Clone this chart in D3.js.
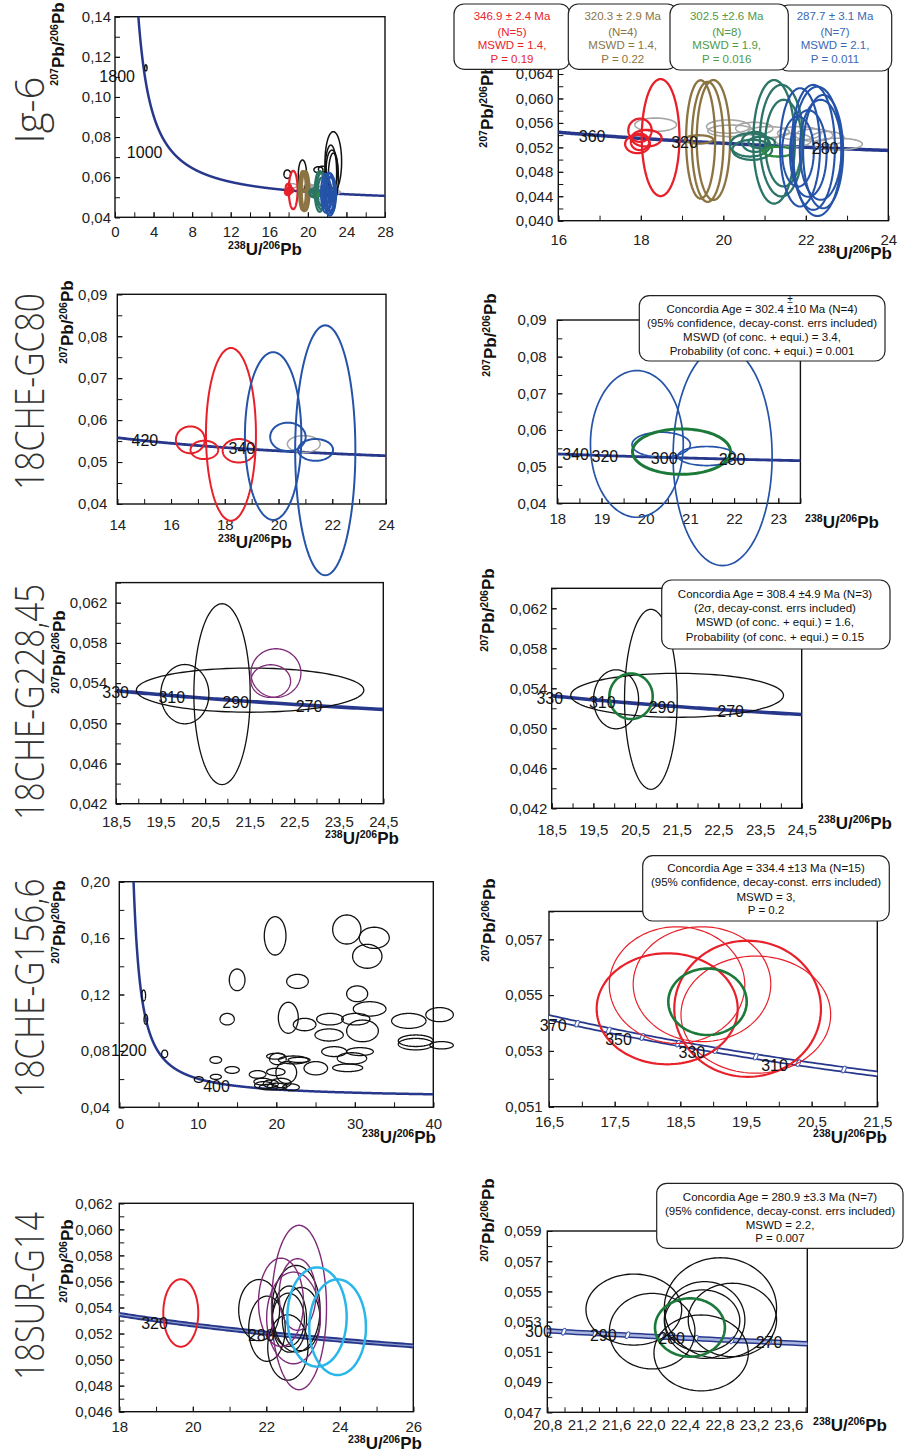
<!DOCTYPE html>
<html><head><meta charset="utf-8">
<script src="https://cdnjs.cloudflare.com/ajax/libs/d3/7.8.5/d3.min.js"></script>
<style>body{margin:0;background:#fff}svg{display:block}</style>
</head><body>
<svg id="c" width="904" height="1452"></svg>
<script>
// ---------------- DATA ----------------
// Tera-Wasserburg concordia model constants
const LAMBDA238 = 1.55125e-10, LAMBDA235 = 9.8485e-10, U238_U235 = 137.88;
const concordiaAges = d3.range(40, 4600, 1);

// Tick labels
const p1XTicks = [0,4,8,12,16,20,24,28], p1YTicks = [0.04,0.06,0.08,0.10,0.12,0.14];
const p2XTicks = [16,18,20,22,24], p2YTicks = [0.040,0.044,0.048,0.052,0.056,0.060,0.064];
const p3XTicks = [14,16,18,20,22,24], p3YTicks = [0.04,0.05,0.06,0.07,0.08,0.09];
const p4XTicks = [18,19,20,21,22,23], p4YTicks = [0.04,0.05,0.06,0.07,0.08,0.09];
const p5XTicks = [18.5,19.5,20.5,21.5,22.5,23.5,24.5], p5YTicks = [0.042,0.046,0.050,0.054,0.058,0.062];
const p6XTicks = [18.5,19.5,20.5,21.5,22.5,23.5,24.5], p6YTicks = [0.042,0.046,0.050,0.054,0.058,0.062];
const p7XTicks = [0,10,20,30,40], p7YTicks = [0.04,0.08,0.12,0.16,0.20];
const p8XTicks = [16.5,17.5,18.5,19.5,20.5,21.5], p8YTicks = [0.051,0.053,0.055,0.057];
const p9XTicks = [18,20,22,24,26], p9YTicks = [0.046,0.048,0.050,0.052,0.054,0.056,0.058,0.060,0.062];
const p10XTicks = [20.8,21.2,21.6,22.0,22.4,22.8,23.2,23.6], p10YTicks = [0.047,0.049,0.051,0.053,0.055,0.057,0.059];

// Concordia age labels (Ma)
const p1Ages = [1800,1000], p2Ages = [360,320,280], p3Ages = [420,340], p4Ages = [340,320,300,280];
const p5Ages = [330,310,290,270], p6Ages = [330,310,290,270], p7Ages = [1200,400];
const p8Ages = [370,350,330,310], p9Ages = [320,280], p10Ages = [300,290,280,270];
const p8Marks = [370,360,350,340,330,320,310,300];
const p10Marks = [300,295,290,285,280,275,270];

// Ellipses: [x, y, semi-axis x, semi-axis y] in data units
const igRed = [[18.48,0.0536,0.457,0.00957],[17.98,0.0548,0.283,0.0019],[18.14,0.0535,0.364,0.00136],[17.92,0.05255,0.30,0.0015],[17.98,0.0529,0.22,0.00136]];
const igBrown = [[19.45,0.0533,0.352,0.00968],[19.62,0.0529,0.384,0.00982],[19.76,0.0532,0.404,0.00982],[19.41,0.0533,0.343,0.00068]];
const igTeal = [[21.23,0.0529,0.505,0.0101],[21.41,0.0531,0.525,0.00914],[21.46,0.0527,0.444,0.00709],[20.65,0.0524,0.485,0.0019],[20.70,0.0516,0.48,0.00164],[20.77,0.0529,0.32,0.00164],[20.93,0.0528,0.32,0.00095]];
const igGreen = [[21.33,0.0513,0.364,0.0008]];
const igBlue = [[21.86,0.0520,0.485,0.00968],[22.18,0.0520,0.525,0.01023],[22.28,0.05135,0.586,0.01058],[22.36,0.0516,0.505,0.00818],[22.06,0.0510,0.444,0.00709],[22.42,0.0513,0.485,0.00927],[21.81,0.0513,0.384,0.00573]];
const igGrey = [[18.36,0.0557,0.505,0.00109],[20.12,0.0554,0.525,0.00109],[20.19,0.0547,0.566,0.00095],[20.75,0.0551,0.45,0.0010],[21.1,0.0545,0.5,0.0009],[21.84,0.0543,0.525,0.0011],[21.70,0.0532,0.44,0.0011],[22.53,0.0535,0.40,0.0011],[22.77,0.05255,0.6,0.00095],[22.2,0.0540,0.45,0.001]];
const igBlack = [[22.64,0.0677,0.86,0.0150],[22.38,0.0623,0.605,0.0137],[22.64,0.0599,0.52,0.0121],[22.5,0.0640,0.6,0.0095],[19.44,0.0611,0.43,0.0075],[17.87,0.0615,0.35,0.0021],[21.1,0.0637,0.47,0.0015],[21.5,0.0640,0.40,0.0015],[3.2,0.1145,0.12,0.0015]];

const gc80Red = [[16.72,0.0553,0.54,0.0032],[17.24,0.0529,0.515,0.0022],[18.23,0.0566,0.93,0.0206],[18.52,0.0527,0.60,0.0028]];
const gc80Blue = [[19.80,0.0562,1.05,0.0200],[21.74,0.0528,1.12,0.0298],[20.35,0.0560,0.66,0.0034],[21.38,0.0529,0.65,0.0026]];
const gc80Grey = [[20.94,0.0543,0.61,0.0020]];
const gc80Conc = [[20.81,0.0541,1.109,0.0062]];

const g228Black = [[20.045,0.0529,0.54,0.00295],[20.88,0.0529,0.632,0.0090],[21.51,0.0533,2.553,0.0022]];
const g228Purple = [[22.09,0.0550,0.561,0.00242],[21.974,0.0542,0.445,0.00163]];
const g228Conc = [[20.404,0.0532,0.52,0.00228]];

const g156Black = [[19.85,0.1616,1.38,0.0136],[28.98,0.1661,1.80,0.0103],[32.48,0.1602,1.91,0.0075],[31.59,0.1471,1.87,0.0085],[15.01,0.1304,1.00,0.0077],[22.70,0.1293,1.38,0.0050],[30.30,0.1205,1.34,0.0056],[31.89,0.1098,2.08,0.0051],[21.53,0.1035,1.27,0.0110],[13.74,0.1025,0.91,0.0041],[23.61,0.0987,1.44,0.0044],[26.84,0.1025,1.70,0.0041],[30.13,0.1025,1.80,0.0041],[30.98,0.0942,2.02,0.0077],[26.73,0.0913,1.80,0.0043],[36.88,0.1013,2.19,0.0053],[40.8,0.1057,1.75,0.0050],[37.77,0.0872,2.23,0.0041],[37.77,0.0848,2.23,0.0041],[41.06,0.0840,1.49,0.0026],[27.37,0.0795,1.59,0.0035],[30.66,0.0795,1.70,0.0028],[29.64,0.0747,1.87,0.0040],[29.09,0.0680,1.91,0.0027],[25.03,0.0677,1.50,0.0047],[21.27,0.0647,1.32,0.0077],[22.17,0.0736,1.90,0.0028],[22.9,0.0736,1.40,0.0018],[19.94,0.0762,1.17,0.0021],[20.20,0.0743,1.06,0.0041],[12.29,0.0736,0.74,0.0024],[14.37,0.0665,0.91,0.0024],[12.30,0.0616,0.70,0.0018],[10.13,0.0597,0.57,0.0020],[17.62,0.0633,1.06,0.0027],[19.94,0.0651,1.17,0.0026],[18.28,0.0582,1.13,0.0024],[18.40,0.0556,1.17,0.0026],[19.30,0.0567,0.95,0.0027],[20.10,0.0547,1.27,0.0024],[20.60,0.0573,1.27,0.0033],[21.87,0.0542,1.06,0.0024],[19.00,0.0543,1.17,0.0020],[3.10,0.1193,0.25,0.0039],[3.38,0.1024,0.23,0.0035],[5.78,0.0779,0.38,0.0027]];
const g156RedThick = [[18.30,0.05451,1.074,0.00199],[19.525,0.05451,1.117,0.00244]];
const g156RedThin = [[18.45,0.05536,1.032,0.00209],[18.83,0.05539,1.048,0.00206],[19.65,0.0543,1.14,0.0021]];
const g156Conc = [[18.914,0.05476,0.597,0.00119]];

const g14Red = [[19.673,0.05358,0.476,0.00259]];
const g14Black = [[21.805,0.0538,0.556,0.00235],[22.018,0.05237,0.497,0.0025],[22.587,0.05093,0.548,0.00251],[22.811,0.0539,0.652,0.00333],[22.627,0.05311,0.468,0.00254],[22.60,0.05306,0.436,0.00204],[22.95,0.05311,0.513,0.00243]];
const g14Purple = [[22.89,0.0540,0.748,0.00631],[22.40,0.0544,0.612,0.00339],[22.85,0.0550,0.5,0.00275],[22.74,0.0532,0.73,0.00352]];
const g14Cyan = [[23.38,0.05327,0.807,0.00381],[23.94,0.05249,0.771,0.00367]];
const g14Conc = [[22.457,0.05261,0.406,0.00193]];

// Info box texts
const igBoxTexts = [
  ["346.9 ± 2.4 Ma","(N=5)","MSWD = 1.4,","P = 0.19"],
  ["320.3 ± 2.9 Ma","(N=4)","MSWD = 1.4,","P = 0.22"],
  ["302.5 ±2.6 Ma","(N=8)","MSWD = 1.9,","P = 0.016"],
  ["287.7 ± 3.1 Ma","(N=7)","MSWD = 2.1,","P = 0.011"]];
const gc80BoxText = ["Concordia Age = 302.4 ±10 Ma (N=4)","(95% confidence, decay-const. errs included)","MSWD (of conc. + equi.) = 3.4,","Probability (of conc. + equi.) = 0.001"];
const g228BoxText = ["Concordia Age = 308.4 ±4.9 Ma (N=3)","(2σ, decay-const. errs included)","MSWD (of conc. + equi.) = 1.6,","Probability (of conc. + equi.) = 0.15"];
const g156BoxText = ["Concordia Age = 334.4 ±13 Ma (N=15)","(95% confidence, decay-const. errs included)","MSWD = 3,","P = 0.2"];
const g14BoxText = ["Concordia Age = 280.9   ±3.3 Ma (N=7)","(95% confidence, decay-const. errs included)","MSWD = 2.2,","P = 0.007"];
const sampleNames = ["Ig-6","18CHE-GC80","18CHE-G228,45","18CHE-G156,6","18SUR-G14"];

// ---------------- STYLE ----------------
const FONT = '"Liberation Sans", Arial, Helvetica, sans-serif';
const C = {red:'#e8202a', brown:'#8b7442', teal:'#2b7466', green2:'#2f8a3c', blue:'#2553a8', grey:'#a5a5a5',
  black:'#111', purple:'#7e2c78', cyan:'#2ab6e8', concEll:'#1b7a3a', conc:'#27388c'};

function tw(age){ const t = age*1e6; const e8 = Math.exp(LAMBDA238*t)-1, e5 = Math.exp(LAMBDA235*t)-1; return [1/e8, e5/e8/U238_U235]; }

const panels = [
 {id:1, r:{l:115,t:16.7,r:385,b:217.3}, xd:[0,28], yd:[0.04,0.14], xt:p1XTicks, yt:p1YTicks, xm:2, ym:0.01, xdec:0, ydec:2, xOff:14, yGap:4,
  conc:{type:'single',w:2.5}, ages:p1Ages, ageDx:[-10,-10], ageDy:0,
  groups:[[igGrey,C.grey,1.5],[igBlack,C.black,1.5],[igRed,C.red,2.2],[igBrown,C.brown,2.4],[igTeal,C.teal,2.4],[igGreen,C.green2,2],[igBlue,C.blue,2.2]],
  xTitle:[265,249], yTitle:[58,44]},
 {id:2, r:{l:558.3,t:61.8,r:888.3,b:220.7}, xd:[16,24], yd:[0.04,0.066], xt:p2XTicks, yt:p2YTicks, xm:1, ym:0.002, xdec:0, ydec:3, xOff:18.6, yGap:5,
  conc:{type:'single',w:3.5}, ages:p2Ages, ageDx:[-11,-11,11], ageDy:0,
  groups:[[igGrey,C.grey,1.6],[igRed,C.red,2.3],[igBrown,C.brown,2.3],[igTeal,C.teal,2.3],[igGreen,C.green2,2.3],[igBlue,C.blue,2.1]],
  xTitle:[855,253], yTitle:[487,106]},
 {id:3, r:{l:117.3,t:294.3,r:386,b:504}, xd:[14,24], yd:[0.04,0.09], xt:p3XTicks, yt:p3YTicks, xm:1, ym:0.005, xdec:0, ydec:2, xOff:21, yGap:10,
  conc:{type:'single',w:2.8}, ages:p3Ages, ageDx:[18,18], ageDy:0,
  groups:[[gc80Grey,C.grey,1.5],[gc80Red,C.red,2],[gc80Blue,C.blue,2]],
  xTitle:[255,542], yTitle:[67,322]},
 {id:4, r:{l:557.3,t:320,r:800.4,b:503.3}, xd:[18,23.5], yd:[0.04,0.09], xt:p4XTicks, yt:p4YTicks, xm:0.5, ym:0.005, xdec:0, ydec:2, xOff:15, yGap:10.6,
  conc:{type:'single',w:2.8}, ages:p4Ages, ageDx:[11,-12,-12,-12], ageDy:0,
  groups:[[gc80Blue,C.blue,1.7],[gc80Conc,C.concEll,3]],
  xTitle:[842,522], yTitle:[490,335]},
 {id:5, r:{l:116,t:582.6,r:383.3,b:803.7}, xd:[18.5,24.5], yd:[0.042,0.064], xt:p5XTicks, yt:p5YTicks, xm:0.5, ym:0.002, xdec:1, ydec:3, xOff:18, yGap:8.7,
  conc:{type:'single',w:3.6}, ages:p5Ages, ageDx:[-11,-11,-11,-11], ageDy:0,
  groups:[[g228Black,C.black,1.3],[g228Purple,C.purple,1.3]],
  xTitle:[362,838], yTitle:[59,652]},
 {id:6, r:{l:551.7,t:588.3,r:801.7,b:808.3}, xd:[18.5,24.5], yd:[0.042,0.064], xt:p6XTicks, yt:p6YTicks, xm:0.5, ym:0.002, xdec:1, ydec:3, xOff:21.7, yGap:4.4,
  conc:{type:'single',w:3.6}, ages:p6Ages, ageDx:[-11,-11,-11,-11], ageDy:0,
  groups:[[g228Black,C.black,1.3],[g228Conc,C.concEll,2.6]],
  xTitle:[855,823], yTitle:[488,610]},
 {id:7, r:{l:119.3,t:881.7,r:433.3,b:1107.3}, xd:[0,40], yd:[0.04,0.20], xt:p7XTicks, yt:p7YTicks, xm:5, ym:0.02, xdec:0, ydec:2, xOff:16, yGap:9.3,
  conc:{type:'single',w:2.5}, ages:p7Ages, ageDx:[-11,-12], ageDy:0,
  groups:[[g156Black,C.black,1.3]],
  xTitle:[399,1137], yTitle:[59,922]},
 {id:8, r:{l:549,t:911.4,r:877.3,b:1106.7}, xd:[16.5,21.5], yd:[0.051,0.058], xt:p8XTicks, yt:p8YTicks, xm:0.5, ym:0.001, xdec:1, ydec:3, xOff:15, yGap:6.3,
  conc:{type:'double',w:6.5,inner:3,innerColor:'#fff'}, marks:p8Marks, ages:p8Ages, ageDx:[-10.5,-10.5,-10.5,-10.5], ageDy:2,
  groups:[[g156RedThin,C.red,1.2],[g156RedThick,C.red,2.2],[g156Conc,C.concEll,2.6]],
  xTitle:[850,1137], yTitle:[489,920]},
 {id:9, r:{l:119.3,t:1203.3,r:413.3,b:1411.7}, xd:[18,26], yd:[0.046,0.062], xt:p9XTicks, yt:p9YTicks, xm:1, ym:0.001, xdec:0, ydec:3, xOff:15.5, yGap:6.6,
  conc:{type:'double',w:5,inner:1.2,innerColor:'#8d9acb'}, ages:p9Ages, ageDx:[-12,-11], ageDy:0,
  groups:[[g14Black,C.black,1.3],[g14Purple,C.purple,1.4],[g14Red,C.red,2],[g14Cyan,C.cyan,2.5]],
  xTitle:[385,1442.5], yTitle:[67,1261]},
 {id:10, r:{l:547.3,t:1231,r:807.3,b:1412.3}, xd:[20.8,23.82], yd:[0.047,0.059], xt:p10XTicks, yt:p10YTicks, xm:0.2, ym:0.001, xdec:1, ydec:3, xOff:12.7, yGap:5.6,
  conc:{type:'double',w:5.5,inner:2.5,innerColor:'#a9b5e0'}, marks:p10Marks, ages:p10Ages, ageDx:[-12,-11,-11,13], ageDy:0,
  groups:[[g14Black,C.black,1.3],[g14Conc,C.concEll,2.6]],
  xTitle:[850,1425], yTitle:[488,1220]}
];

const boxes = [
 {x:454,y:4,w:116,h:65.3,cx:512,lines:igBoxTexts[0],color:'#e8242c',ly:[16,31.7,45,59]},
 {x:568.3,y:4,w:109,h:65.3,cx:622.7,lines:igBoxTexts[1],color:'#8a7445',ly:[16,31.7,45,59]},
 {x:778.3,y:5,w:113.4,h:66,cx:835,lines:igBoxTexts[3],color:'#3a68b5',ly:[16,31.7,45,59]},
 {x:670,y:4,w:118.3,h:66,cx:726.7,lines:igBoxTexts[2],color:'#4f9a45',ly:[16,31.7,45,59]},
 {x:639.3,y:295.7,w:245.7,h:65.3,cx:762,lines:gc80BoxText,color:'#111',ly:[309,323.3,337.3,350.7]},
 {x:661.7,y:580,w:228.3,h:69,cx:775,lines:g228BoxText,color:'#111',ly:[594,607.8,622.3,636.7]},
 {x:642.7,y:855.7,w:246.6,h:65.3,cx:766,lines:g156BoxText,color:'#111',ly:[868.3,882.3,896.7,910]},
 {x:656.7,y:1183.3,w:246.3,h:65,cx:780,lines:g14BoxText,color:'#111',ly:[1196.7,1210.7,1225,1238.3]}
];
const titlePos = [[110,67],[391.5,197],[702,236],[988,219],[1296,168]];

// ---------------- DRAW ----------------
const svg = d3.select('#c');
const defs = svg.append('defs');

function fmt(dec){ return d => d3.format('.'+dec+'f')(d).replace('.', ','); }
function ellPath(x, y, e){
  const n = 120, pts = [];
  for (let i=0;i<n;i++){ const a = i/n*2*Math.PI; pts.push([x(e[0]+e[2]*Math.cos(a)), y(e[1]+e[3]*Math.sin(a))]); }
  return d3.line().curve(d3.curveLinearClosed)(pts);
}
function ratioText(parent, px, py, rot, supA, elA, supB, elB){
  const t = parent.append('text').attr('transform',`translate(${px},${py}) rotate(${rot})`)
    .attr('text-anchor','middle').attr('font-family',FONT).attr('font-weight','bold').attr('font-size',17).attr('fill','#111');
  t.append('tspan').attr('font-size',10.5).attr('dy',-6).text(supA);
  t.append('tspan').attr('dy',6).text(elA+'/');
  t.append('tspan').attr('font-size',10.5).attr('dy',-6).text(supB);
  t.append('tspan').attr('dy',6).text(elB);
}

panels.forEach(P => {
  const g = svg.append('g');
  const x = d3.scaleLinear().domain(P.xd).range([P.r.l, P.r.r]);
  const y = d3.scaleLinear().domain(P.yd).range([P.r.b, P.r.t]);
  const cid = 'clip'+P.id;
  defs.append('clipPath').attr('id',cid).append('rect')
    .attr('x',P.r.l).attr('y',P.r.t).attr('width',P.r.r-P.r.l).attr('height',P.r.b-P.r.t);

  const minorX = d3.range(0, Math.round((P.xd[1]-P.xd[0])/P.xm)+1).map(i => +(P.xd[0]+i*P.xm).toFixed(6)).filter(v=>v<=P.xd[1]+1e-9);
  const minorY = d3.range(0, Math.round((P.yd[1]-P.yd[0])/P.ym)+1).map(i => +(P.yd[0]+i*P.ym).toFixed(6)).filter(v=>v<=P.yd[1]+1e-9);

  g.append('g').attr('transform',`translate(0,${P.r.b})`).call(d3.axisBottom(x).tickValues(minorX).tickSize(-5).tickFormat(''));
  g.append('g').attr('transform',`translate(${P.r.l},0)`).call(d3.axisLeft(y).tickValues(minorY).tickSize(-5).tickFormat(''));
  const ax = g.append('g').attr('transform',`translate(0,${P.r.b})`).call(d3.axisBottom(x).tickValues(P.xt).tickSize(-5).tickFormat(fmt(P.xdec)));
  ax.selectAll('text').attr('y',P.xOff).attr('dy','0.35em');
  g.append('g').attr('transform',`translate(${P.r.l},0)`).call(d3.axisLeft(y).tickValues(P.yt).tickSize(-5).tickPadding(P.yGap).tickFormat(fmt(P.ydec)));
  g.selectAll('.domain').remove();
  g.selectAll('.tick line').attr('stroke','#111').attr('stroke-width',1);
  g.selectAll('.tick text').attr('font-family',FONT).attr('font-size',15).attr('fill','#222');

  g.append('rect').attr('x',P.r.l).attr('y',P.r.t).attr('width',P.r.r-P.r.l).attr('height',P.r.b-P.r.t)
    .attr('fill','none').attr('stroke','#111').attr('stroke-width',1.4);

  const cg = g.append('g').attr('clip-path',`url(#${cid})`);
  const curve = concordiaAges.map(tw);
  const line = d3.line().x(d=>x(d[0])).y(d=>y(d[1]));
  cg.append('path').attr('d',line(curve)).attr('fill','none').attr('stroke',C.conc).attr('stroke-width',P.conc.w);
  if (P.conc.type==='double'){
    cg.append('path').attr('d',line(curve)).attr('fill','none').attr('stroke',P.conc.innerColor).attr('stroke-width',P.conc.inner);
  }
  if (P.marks){
    cg.selectAll('ellipse.mk').data(P.marks).join('ellipse').attr('class','mk')
      .attr('transform',a=>{const p=tw(a); return `translate(${x(p[0])},${y(p[1])}) rotate(25)`;})
      .attr('rx',1.8).attr('ry',3.6).attr('fill','#fff').attr('stroke','#3d5bb5').attr('stroke-width',1);
  }

  P.groups.forEach(([data,color,w]) => {
    g.append('g').selectAll('path').data(data).join('path')
      .attr('d', e => ellPath(x,y,e)).attr('fill','none').attr('stroke',color).attr('stroke-width',w);
  });

  g.append('g').selectAll('text').data(P.ages).join('text')
    .attr('x',(a,i)=>x(tw(a)[0])+P.ageDx[i]).attr('y',a=>y(tw(a)[1])+P.ageDy).attr('dy','0.35em')
    .attr('text-anchor','end').attr('font-family',FONT).attr('font-size',16).attr('fill','#111').text(a=>a);

  ratioText(g, P.xTitle[0], P.xTitle[1]+6, 0, '238','U','206','Pb');
  ratioText(g, P.yTitle[0]+6, P.yTitle[1], -90, '207','Pb','206','Pb');
});

boxes.forEach(B => {
  const g = svg.append('g');
  g.append('rect').attr('x',B.x).attr('y',B.y).attr('width',B.w).attr('height',B.h).attr('rx',10).attr('ry',10)
    .attr('fill','#fff').attr('stroke','#222').attr('stroke-width',1.2);
  g.selectAll('text').data(B.lines).join('text').attr('x',B.cx).attr('y',(d,i)=>B.ly[i]).attr('dy','0.35em')
    .attr('text-anchor','middle').attr('font-family',FONT).attr('font-size',11.5).attr('fill',B.color).text(d=>d);
});
svg.append('text').attr('x',790).attr('y',299).attr('dy','0.35em').attr('text-anchor','middle')
  .attr('font-family',FONT).attr('font-size',10).attr('fill','#111').text('±');

sampleNames.forEach((s,i) => {
  svg.append('text').attr('transform',`translate(44,${titlePos[i][0]}) rotate(-90)`)
    .attr('text-anchor','middle').attr('font-family','"Open Sans", "Liberation Sans", sans-serif').attr('font-weight',300)
    .attr('font-size',41).attr('fill','#333').attr('textLength',titlePos[i][1]).attr('lengthAdjust','spacingAndGlyphs').text(s);
});
</script>
</body></html>
